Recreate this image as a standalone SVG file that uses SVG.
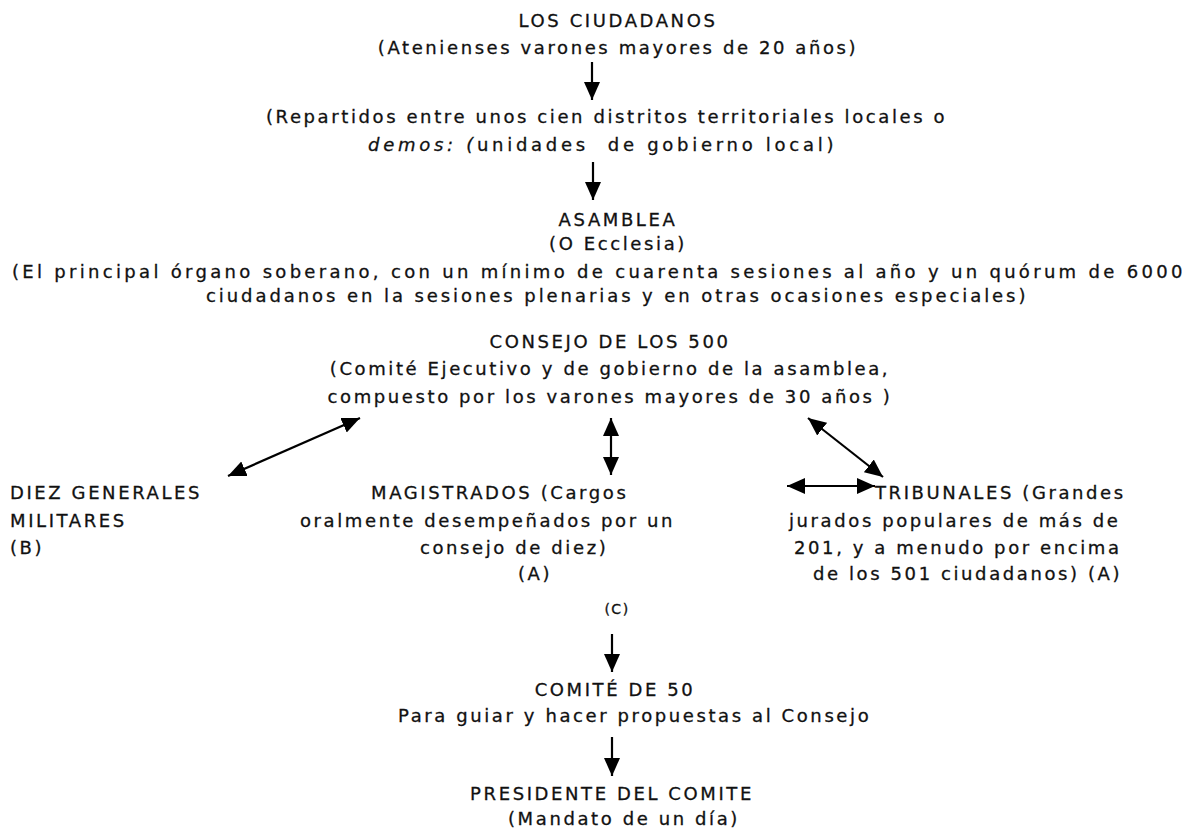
<svg xmlns="http://www.w3.org/2000/svg" width="1195" height="829" viewBox="0 0 1195 829">
<style>
text{font-family:"DejaVu Sans","Verdana",sans-serif;font-size:18px;fill:#111;white-space:pre;letter-spacing:2.6px;stroke:#111;stroke-width:0.3px}
.m{text-anchor:middle}
.e{text-anchor:end}
.sm{font-size:14px;letter-spacing:1.5px}
.c{stroke:#000;stroke-width:2.2;fill:none}
</style>
<defs>
<marker id="ah" markerUnits="userSpaceOnUse" markerWidth="20" markerHeight="18" refX="18" refY="8" orient="auto-start-reverse" viewBox="0 0 20 16">
<path d="M0,0 L18,8 L0,16 Z" fill="#000"/>
</marker>
</defs>
<rect width="1195" height="829" fill="#fff"/>
<g id="ciudadanos">
<text class="m" x="618" y="27">LOS CIUDADANOS</text>
<text class="m" x="618" y="54">(Atenienses varones mayores de 20 años)</text>
</g>
<g id="demos">
<text x="266" y="123">(Repartidos entre unos cien distritos territoriales locales o</text>
<text x="368" y="151" textLength="468" lengthAdjust="spacing"><tspan font-style="italic">demos: (</tspan>unidades  de gobierno local)</text>
</g>
<g id="asamblea">
<text class="m" x="618" y="226">ASAMBLEA</text>
<text class="m" x="618" y="250">(O Ecclesia)</text>
<text x="12" y="278" textLength="1173" lengthAdjust="spacing">(El principal órgano soberano, con un mínimo de cuarenta sesiones al año y un quórum de 6000</text>
<text x="206" y="302" textLength="822" lengthAdjust="spacing">ciudadanos en la sesiones plenarias y en otras ocasiones especiales)</text>
</g>
<g id="consejo">
<text class="m" x="610" y="348">CONSEJO DE LOS 500</text>
<text class="m" x="610" y="375">(Comité Ejecutivo y de gobierno de la asamblea,</text>
<text class="m" x="610" y="403">compuesto por los varones mayores de 30 años )</text>
</g>
<g id="generales">
<text x="10" y="499">DIEZ GENERALES</text>
<text x="10" y="527">MILITARES</text>
<text x="10" y="554">(B)</text>
</g>
<g id="magistrados">
<text x="371" y="499">MAGISTRADOS (Cargos</text>
<text x="300" y="527">oralmente desempeñados por un</text>
<text x="420" y="554">consejo de diez)</text>
<text x="518" y="580">(A)</text>
</g>
<g id="tribunales">
<text x="875" y="499">TRIBUNALES (Grandes</text>
<text x="789" y="527">jurados populares de más de</text>
<text x="794" y="554">201, y a menudo por encima</text>
<text x="813" y="580">de los 501 ciudadanos) (A)</text>
</g>
<g id="c-label">
<text class="m sm" x="617" y="614">(C)</text>
</g>
<g id="comite">
<text class="m" x="615" y="696">COMITÉ DE 50</text>
<text x="398" y="722">Para guiar y hacer propuestas al Consejo</text>
</g>
<g id="presidente">
<text class="m" x="612" y="800">PRESIDENTE DEL COMITE</text>
<text x="508" y="825">(Mandato de un día)</text>
</g>
<g id="connectors">
<line class="c" x1="592" y1="62" x2="592" y2="100" marker-end="url(#ah)"/>
<line class="c" x1="593" y1="162" x2="593" y2="200" marker-end="url(#ah)"/>
<line class="c" x1="228" y1="476" x2="360" y2="418" marker-start="url(#ah)" marker-end="url(#ah)"/>
<line class="c" x1="611" y1="418" x2="611" y2="475" marker-start="url(#ah)" marker-end="url(#ah)"/>
<line class="c" x1="808" y1="418" x2="883" y2="477" marker-start="url(#ah)" marker-end="url(#ah)"/>
<line class="c" x1="787" y1="486" x2="875" y2="486" marker-start="url(#ah)" marker-end="url(#ah)"/>
<line class="c" x1="612" y1="634" x2="612" y2="672" marker-end="url(#ah)"/>
<line class="c" x1="612" y1="737" x2="612" y2="776" marker-end="url(#ah)"/>
</g>
</svg>
